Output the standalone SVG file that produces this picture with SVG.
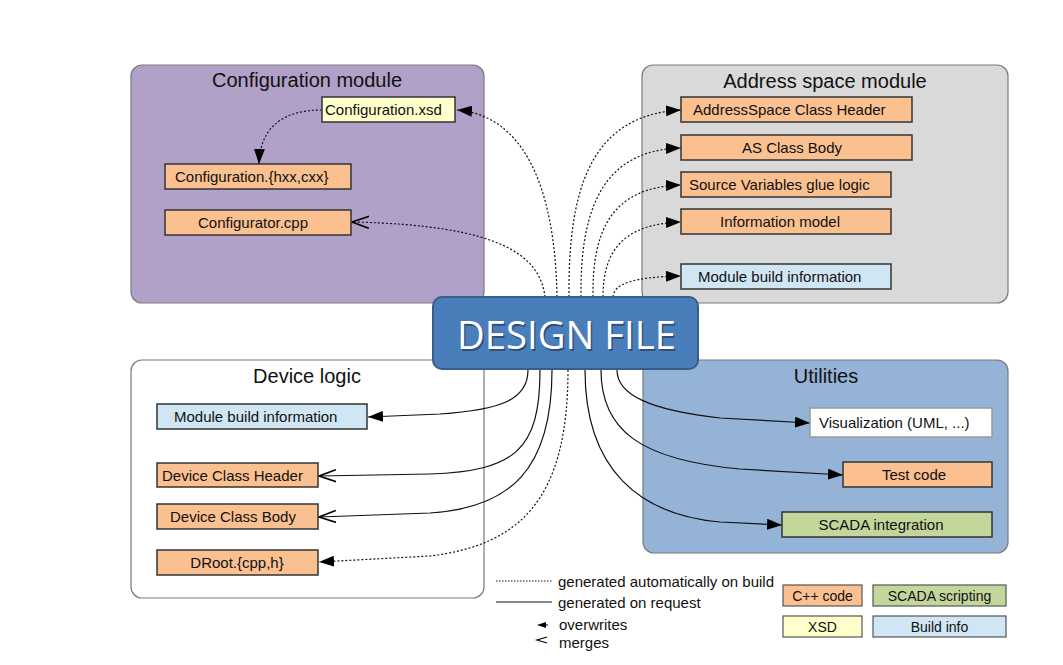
<svg xmlns="http://www.w3.org/2000/svg" width="1063" height="665" viewBox="0 0 1063 665">
  <style>
    .grp { stroke: #7a7a7a; stroke-width: 1.2; }
    .title { font-family: "Liberation Sans", Arial, sans-serif; font-size: 20px; fill: #111; text-anchor: middle; }
    .node { stroke: #333; stroke-width: 1.5; }
    .cpp { fill: #fac090; }
    .xsd { fill: #ffffcc; }
    .bld { fill: #d0e6f4; }
    .scada { fill: #c3d69b; }
    .viz { fill: #ffffff; stroke: #999; }
    .lbl { font-family: "Liberation Sans", Arial, sans-serif; font-size: 15px; fill: #111; }
    .sm { font-size: 14px; }
    .mid { text-anchor: middle; }
    .auto { fill: none; stroke: #111; stroke-width: 1.2; stroke-dasharray: 2 2; }
    .req { fill: none; stroke: #111; stroke-width: 1.2; }
    .lgbox { stroke: #555; stroke-width: 1.2; }
  </style>
  <defs>
    <marker id="fill" viewBox="0 0 15 11" refX="15" refY="5.5" markerWidth="15" markerHeight="11" markerUnits="userSpaceOnUse" orient="auto">
      <path d="M0,0 L15,5.5 L0,11 z" fill="#000"/>
    </marker>
    <marker id="open" viewBox="0 0 18 14" refX="17" refY="7" markerWidth="18" markerHeight="14" markerUnits="userSpaceOnUse" orient="auto">
      <path d="M0,1 L17,7 L0,13" fill="none" stroke="#000" stroke-width="1.6"/>
    </marker>
  </defs>
  <rect width="1063" height="665" fill="#fff"/>

  <!-- Group boxes -->
  <g id="config-module">
    <rect class="grp" x="131" y="65" width="353" height="238" rx="11" fill="#b1a0c7"/>
    <text class="title" x="307" y="87">Configuration module</text>
  </g>
  <g id="address-space-module">
    <rect class="grp" x="642" y="65" width="366" height="238" rx="11" fill="#d9d9d9"/>
    <text class="title" x="825" y="88">Address space module</text>
  </g>
  <g id="device-logic">
    <rect class="grp" x="131" y="360" width="353" height="238" rx="11" fill="#ffffff"/>
    <text class="title" x="307" y="383">Device logic</text>
  </g>
  <g id="utilities">
    <rect class="grp" x="643" y="360" width="365" height="193" rx="11" fill="#95b3d7"/>
    <text class="title" x="826" y="383">Utilities</text>
  </g>

  <!-- Connectors -->
  <g id="connectors">
    <path class="auto" d="M557,297 C555,180 520,115 457,110" marker-end="url(#fill)"/>
    <path class="auto" d="M545,297 C540,255 500,225 352,222" marker-end="url(#open)"/>
    <path class="auto" d="M322,110 C282,110 260,128 259,164" marker-end="url(#fill)"/>
    <path class="auto" d="M569,297 C568,190 590,115 681,110" marker-end="url(#fill)"/>
    <path class="auto" d="M581,297 C580,210 602,150 681,148" marker-end="url(#fill)"/>
    <path class="auto" d="M593,297 C592,230 612,187 681,185" marker-end="url(#fill)"/>
    <path class="auto" d="M603,297 C603,252 622,224 681,222" marker-end="url(#fill)"/>
    <path class="auto" d="M613,297 C614,284 632,277 681,276" marker-end="url(#fill)"/>

    <path class="req" d="M528,370 C528,400 500,410 440,414 L368,417" marker-end="url(#fill)"/>
    <path class="req" d="M540,370 C540,450 515,471 430,474 L319,476" marker-end="url(#open)"/>
    <path class="req" d="M552,370 C552,470 510,508 430,513 L319,517" marker-end="url(#open)"/>
    <path class="auto" d="M568,370 C568,500 520,545 430,556 L319,562" marker-end="url(#fill)"/>
    <path class="req" d="M617,370 C617,395 650,410 720,418 L810,423" marker-end="url(#fill)"/>
    <path class="req" d="M601,370 C601,430 640,460 740,469 L843,475" marker-end="url(#fill)"/>
    <path class="req" d="M585,370 C585,470 640,515 720,522 L782,525" marker-end="url(#fill)"/>
  </g>

  <!-- Configuration module nodes -->
  <g id="configuration-xsd">
    <rect class="node xsd" x="322" y="97" width="133" height="25"/>
    <text class="lbl" x="325" y="115">Configuration.xsd</text>
  </g>
  <g id="configuration-hxx-cxx">
    <rect class="node cpp" x="165" y="164" width="186" height="25"/>
    <text class="lbl" x="175" y="182">Configuration.{hxx,cxx}</text>
  </g>
  <g id="configurator-cpp">
    <rect class="node cpp" x="165" y="210" width="186" height="25"/>
    <text class="lbl mid" x="253" y="228">Configurator.cpp</text>
  </g>

  <!-- Address space nodes -->
  <g id="as-class-header">
    <rect class="node cpp" x="681" y="97" width="231" height="25"/>
    <text class="lbl" x="693" y="115">AddressSpace Class Header</text>
  </g>
  <g id="as-class-body">
    <rect class="node cpp" x="681" y="135" width="231" height="25"/>
    <text class="lbl mid" x="792" y="153">AS Class Body</text>
  </g>
  <g id="source-variables">
    <rect class="node cpp" x="681" y="172" width="210" height="25"/>
    <text class="lbl" x="689" y="190">Source Variables glue logic</text>
  </g>
  <g id="information-model">
    <rect class="node cpp" x="681" y="209" width="210" height="25"/>
    <text class="lbl mid" x="780" y="227">Information model</text>
  </g>
  <g id="as-module-build-info">
    <rect class="node bld" x="681" y="264" width="210" height="25"/>
    <text class="lbl" x="698" y="282">Module build information</text>
  </g>

  <!-- Design file -->
  <g id="design-file">
    <rect x="433" y="297" width="265" height="72" rx="9" fill="#4a7ebb" stroke="#385d8a" stroke-width="2"/>
    <text x="568" y="351" font-family="'Open Sans', 'Noto Sans', sans-serif" font-size="38" fill="#1f3a5f" fill-opacity="0.7" text-anchor="middle" textLength="219" lengthAdjust="spacingAndGlyphs">DESIGN FILE</text>
    <text x="566.5" y="349" font-family="'Open Sans', 'Noto Sans', sans-serif" font-size="38" fill="#ffffff" text-anchor="middle" textLength="219" lengthAdjust="spacingAndGlyphs">DESIGN FILE</text>
  </g>

  <!-- Device logic nodes -->
  <g id="dl-module-build-info">
    <rect class="node bld" x="157" y="404" width="210" height="25"/>
    <text class="lbl" x="174" y="422">Module build information</text>
  </g>
  <g id="device-class-header">
    <rect class="node cpp" x="157" y="463" width="161" height="24"/>
    <text class="lbl" x="162" y="481">Device Class Header</text>
  </g>
  <g id="device-class-body">
    <rect class="node cpp" x="157" y="504" width="161" height="25"/>
    <text class="lbl" x="170" y="522">Device Class Body</text>
  </g>
  <g id="droot">
    <rect class="node cpp" x="157" y="550" width="161" height="25"/>
    <text class="lbl mid" x="237" y="568">DRoot.{cpp,h}</text>
  </g>

  <!-- Utilities nodes -->
  <g id="visualization">
    <rect class="node viz" x="810" y="408" width="182" height="29"/>
    <text class="lbl" x="819" y="428">Visualization (UML, ...)</text>
  </g>
  <g id="test-code">
    <rect class="node cpp" x="843" y="462" width="149" height="25"/>
    <text class="lbl mid" x="914" y="480">Test code</text>
  </g>
  <g id="scada-integration">
    <rect class="node scada" x="782" y="512" width="210" height="25"/>
    <text class="lbl mid" x="881" y="530">SCADA integration</text>
  </g>

  <!-- Legend -->
  <g id="legend">
    <line x1="496" y1="581" x2="552" y2="581" stroke="#111" stroke-width="1" stroke-dasharray="1.5 1.5"/>
    <text class="lbl" x="558" y="587">generated automatically on build</text>
    <line x1="496" y1="602" x2="552" y2="602" stroke="#111" stroke-width="1.2"/>
    <text class="lbl" x="558" y="608">generated on request</text>
    <path d="M537,625 L546,622 L546,628 z" fill="#000"/>
    <line x1="546" y1="625" x2="548" y2="625" stroke="#000" stroke-width="1"/>
    <text class="lbl" x="559" y="630">overwrites</text>
    <path d="M547,637 L537,640 L547,643" fill="none" stroke="#000" stroke-width="1.2"/>
    <text class="lbl" x="559" y="648">merges</text>

    <rect class="lgbox cpp" x="783" y="585" width="79" height="21"/>
    <text class="lbl sm mid" x="822.5" y="601">C++ code</text>
    <rect class="lgbox scada" x="873" y="585" width="133" height="21"/>
    <text class="lbl sm mid" x="939.5" y="601">SCADA scripting</text>
    <rect class="lgbox xsd" x="783" y="616" width="79" height="21"/>
    <text class="lbl sm mid" x="822.5" y="632">XSD</text>
    <rect class="lgbox bld" x="873" y="616" width="133" height="21"/>
    <text class="lbl sm mid" x="939.5" y="632">Build info</text>
  </g>
</svg>
